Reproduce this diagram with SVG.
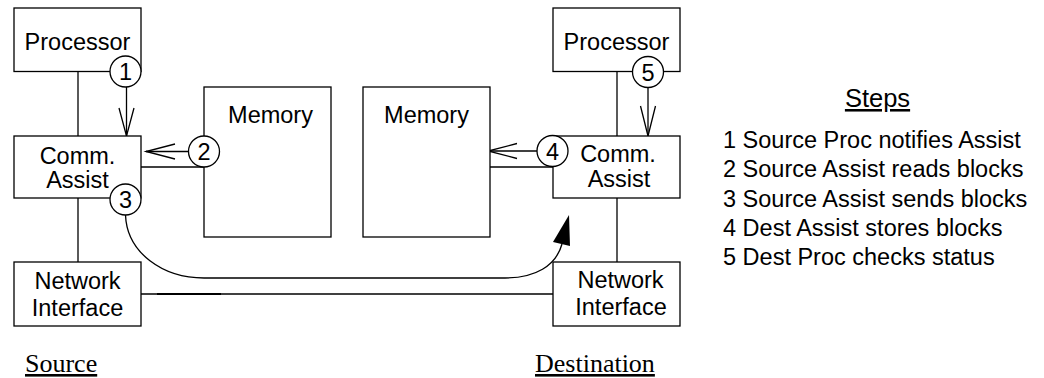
<svg xmlns="http://www.w3.org/2000/svg" width="1044" height="378" viewBox="0 0 1044 378">
<style>
.box{fill:#fff;stroke:#000;stroke-width:1.3}
.ln{fill:none;stroke:#000;stroke-width:1.3}
.circ{fill:#fff;stroke:#000;stroke-width:1.3}
.t{font-family:"Liberation Sans",Arial,sans-serif;font-size:23.5px;fill:#000;text-anchor:middle}
.num{font-family:"Liberation Sans",Arial,sans-serif;font-size:23.5px;fill:#000;text-anchor:middle}
.st{font-family:"Liberation Sans",Arial,sans-serif;font-size:23.5px;fill:#000}
.ser{font-family:"Liberation Serif","Times New Roman",serif;font-size:26px;fill:#000;text-decoration:underline}
</style>
<rect width="1044" height="378" fill="#fff"/>
<g id="connectors">
<line class="ln" x1="78" y1="71.5" x2="78" y2="136"/>
<line class="ln" x1="78" y1="198" x2="78" y2="262"/>
<line class="ln" x1="141" y1="167" x2="204" y2="167"/>
<line class="ln" x1="617" y1="71.5" x2="617" y2="136"/>
<line class="ln" x1="617" y1="198" x2="617" y2="262"/>
<line class="ln" x1="490" y1="167" x2="553" y2="167"/>
<line class="ln" x1="141" y1="294" x2="553" y2="294"/>
<line stroke="#000" stroke-width="2" x1="157" y1="294" x2="221" y2="294"/>
<line class="ln" x1="126.5" y1="87" x2="126.5" y2="136"/>
<polyline class="ln" points="119,108 126.5,136 134,108"/>
<line class="ln" x1="188" y1="151.5" x2="146" y2="151.5"/>
<polyline class="ln" points="175,144 146,151.5 175,159"/>
<line class="ln" x1="537" y1="151" x2="488" y2="151"/>
<polyline class="ln" points="517,143.5 488,151 517,158.5"/>
<line class="ln" x1="648" y1="88" x2="648" y2="136"/>
<polyline class="ln" points="640.5,106 648,136 655.5,106"/>
<path class="ln" d="M125.5,215 C127,253 163,278 204,278 L505,278 C535,278 556,266 562,244"/>
<polygon points="569,215 553,242 570,246" fill="#000"/>
</g>
<g id="src-processor">
<rect class="box" x="14" y="8" width="127" height="63.5"/>
<text class="t" x="77.5" y="50">Processor</text>
</g>
<g id="src-assist">
<rect class="box" x="14" y="136" width="127" height="62"/>
<text class="t" x="77.5" y="164">Comm.</text>
<text class="t" x="77.5" y="188">Assist</text>
</g>
<g id="src-network">
<rect class="box" x="14" y="262" width="127" height="64"/>
<text class="t" x="77.5" y="289">Network</text>
<text class="t" x="77.5" y="316">Interface</text>
</g>
<g id="src-memory">
<rect class="box" x="204" y="87" width="127" height="150"/>
<text class="t" x="270.5" y="123">Memory</text>
</g>
<g id="dst-memory">
<rect class="box" x="363" y="87" width="127" height="150"/>
<text class="t" x="426.5" y="123">Memory</text>
</g>
<g id="dst-processor">
<rect class="box" x="553" y="8" width="127" height="63.5"/>
<text class="t" x="616.5" y="50">Processor</text>
</g>
<g id="dst-assist">
<rect class="box" x="553" y="136" width="127" height="62"/>
<text class="t" x="618" y="162">Comm.</text>
<text class="t" x="619" y="187">Assist</text>
</g>
<g id="dst-network">
<rect class="box" x="553" y="262" width="127" height="64"/>
<text class="t" x="620.5" y="288">Network</text>
<text class="t" x="621" y="315">Interface</text>
</g>
<g id="step1">
<circle class="circ" cx="125.5" cy="71.5" r="15.5"/>
<text class="num" x="125.5" y="80">1</text>
</g>
<g id="step2">
<circle class="circ" cx="204" cy="151.5" r="15.5"/>
<text class="num" x="204" y="160">2</text>
</g>
<g id="step3">
<circle class="circ" cx="125.5" cy="199.5" r="15.5"/>
<text class="num" x="125.5" y="208">3</text>
</g>
<g id="step4">
<circle class="circ" cx="552.5" cy="151" r="15.5"/>
<text class="num" x="552.5" y="159.5">4</text>
</g>
<g id="step5">
<circle class="circ" cx="648" cy="72" r="15.5"/>
<text class="num" x="648" y="80.5">5</text>
</g>
<g id="labels">
<text class="ser" x="25" y="372">Source</text>
<text class="ser" x="535" y="372">Destination</text>
</g>
<g id="steps">
<text class="st" x="877.5" y="107" text-anchor="middle" text-decoration="underline" style="font-size:25.5px">Steps</text>
<text class="st" x="723" y="148">1 Source Proc notifies Assist</text>
<text class="st" x="723" y="177">2 Source Assist reads blocks</text>
<text class="st" x="723" y="207">3 Source Assist sends blocks</text>
<text class="st" x="723" y="236">4 Dest Assist stores blocks</text>
<text class="st" x="723" y="265">5 Dest Proc checks status</text>
</g>
</svg>
